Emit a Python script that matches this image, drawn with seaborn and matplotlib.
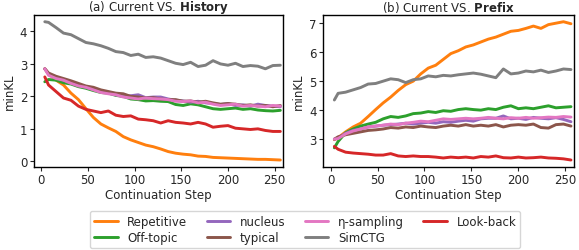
import numpy as np
import pandas as pd
import matplotlib
matplotlib.use("Agg")
import matplotlib.pyplot as plt
import seaborn as sns

steps = [4, 8, 16, 24, 32, 40, 48, 56, 64, 72, 80, 88, 96, 104, 112, 120, 128,
         136, 144, 152, 160, 168, 176, 184, 192, 200, 208, 216, 224, 232, 240, 248, 256]

methods = ["Repetitive", "Off-topic", "nucleus", "typical", "η-sampling", "SimCTG", "Look-back"]
colors = ["#ff7f0e", "#2ca02c", "#9467bd", "#8c564b", "#e377c2", "#7f7f7f", "#d62728"]

# (a) Current VS. History
hist_repetitive = [2.85, 2.70, 2.50, 2.35, 2.10, 1.90, 1.62, 1.35, 1.15, 1.03, 0.92, 0.76, 0.66, 0.58, 0.50, 0.45, 0.38,
                   0.30, 0.25, 0.22, 0.20, 0.16, 0.15, 0.12, 0.11, 0.10, 0.09, 0.08, 0.07, 0.06, 0.06, 0.05, 0.04]
hist_offtopic = [2.45, 2.52, 2.50, 2.42, 2.38, 2.30, 2.25, 2.18, 2.12, 2.10, 2.03, 2.00, 1.92, 1.90, 1.86, 1.87, 1.85,
                 1.84, 1.75, 1.72, 1.77, 1.74, 1.68, 1.62, 1.60, 1.62, 1.64, 1.60, 1.62, 1.58, 1.56, 1.55, 1.57]
hist_nucleus = [2.85, 2.70, 2.58, 2.50, 2.42, 2.35, 2.28, 2.22, 2.15, 2.10, 2.05, 2.00, 2.02, 2.05, 1.96, 1.98, 1.98,
                1.92, 1.88, 1.86, 1.82, 1.85, 1.80, 1.78, 1.75, 1.78, 1.72, 1.74, 1.70, 1.76, 1.72, 1.70, 1.68]
hist_typical = [2.85, 2.72, 2.62, 2.55, 2.48, 2.40, 2.32, 2.28, 2.20, 2.15, 2.10, 2.08, 2.00, 1.98, 1.95, 1.96, 1.92,
                1.90, 1.90, 1.85, 1.86, 1.82, 1.85, 1.80, 1.76, 1.78, 1.76, 1.72, 1.74, 1.70, 1.72, 1.68, 1.72]
hist_eta = [2.85, 2.65, 2.55, 2.50, 2.40, 2.32, 2.28, 2.20, 2.12, 2.08, 2.05, 1.98, 1.95, 1.92, 1.95, 1.93, 1.92,
            1.90, 1.85, 1.84, 1.86, 1.80, 1.82, 1.76, 1.72, 1.74, 1.76, 1.70, 1.72, 1.70, 1.68, 1.72, 1.70]
hist_simctg = [4.30, 4.28, 4.12, 3.95, 3.90, 3.78, 3.66, 3.62, 3.56, 3.48, 3.38, 3.35, 3.26, 3.30, 3.20, 3.22, 3.18,
               3.10, 3.02, 2.98, 3.05, 2.92, 2.96, 3.10, 3.00, 2.96, 3.02, 2.92, 2.95, 2.93, 2.85, 2.95, 2.96]
hist_lookback = [2.60, 2.35, 2.15, 1.95, 1.88, 1.70, 1.60, 1.55, 1.50, 1.55, 1.42, 1.38, 1.40, 1.30, 1.28, 1.25, 1.18,
                 1.25, 1.20, 1.18, 1.15, 1.20, 1.15, 1.05, 1.08, 1.10, 1.02, 1.00, 0.98, 1.00, 0.95, 0.92, 0.92]

# (b) Current VS. Prefix
pref_repetitive = [2.98, 3.05, 3.25, 3.42, 3.55, 3.78, 4.02, 4.25, 4.45, 4.68, 4.88, 5.00, 5.25, 5.45, 5.55, 5.75, 5.95,
                   6.05, 6.18, 6.25, 6.35, 6.45, 6.52, 6.62, 6.72, 6.75, 6.82, 6.90, 6.82, 6.95, 7.00, 7.05, 6.98]
pref_offtopic = [2.70, 2.92, 3.22, 3.35, 3.45, 3.52, 3.58, 3.70, 3.78, 3.75, 3.80, 3.88, 3.90, 3.95, 3.92, 3.98, 3.96,
                 4.02, 4.05, 4.02, 4.00, 4.05, 4.02, 4.10, 4.15, 4.05, 4.08, 4.05, 4.10, 4.15, 4.08, 4.10, 4.12]
pref_nucleus = [3.00, 3.05, 3.20, 3.30, 3.35, 3.42, 3.45, 3.48, 3.50, 3.52, 3.55, 3.52, 3.55, 3.58, 3.55, 3.60, 3.58,
                3.62, 3.65, 3.62, 3.70, 3.72, 3.72, 3.80, 3.70, 3.72, 3.68, 3.75, 3.72, 3.70, 3.74, 3.68, 3.60]
pref_typical = [3.00, 3.08, 3.15, 3.20, 3.25, 3.30, 3.32, 3.35, 3.40, 3.38, 3.42, 3.40, 3.45, 3.42, 3.40, 3.45, 3.48,
                3.45, 3.50, 3.45, 3.48, 3.45, 3.50, 3.42, 3.48, 3.50, 3.48, 3.52, 3.40, 3.38, 3.50, 3.52, 3.45]
pref_eta = [3.00, 3.02, 3.18, 3.28, 3.35, 3.42, 3.45, 3.48, 3.52, 3.50, 3.55, 3.58, 3.62, 3.60, 3.65, 3.70, 3.68,
            3.70, 3.72, 3.70, 3.72, 3.75, 3.72, 3.70, 3.74, 3.72, 3.75, 3.72, 3.74, 3.76, 3.75, 3.78, 3.76]
pref_simctg = [4.35, 4.58, 4.62, 4.70, 4.78, 4.90, 4.92, 5.00, 5.08, 5.05, 4.95, 5.05, 5.08, 5.18, 5.15, 5.20, 5.18,
               5.22, 5.25, 5.28, 5.24, 5.18, 5.12, 5.42, 5.25, 5.28, 5.35, 5.32, 5.38, 5.30, 5.35, 5.42, 5.40]
pref_lookback = [2.75, 2.65, 2.55, 2.52, 2.50, 2.48, 2.45, 2.45, 2.50, 2.42, 2.40, 2.42, 2.40, 2.40, 2.38, 2.35, 2.38,
                 2.36, 2.38, 2.35, 2.40, 2.38, 2.42, 2.36, 2.35, 2.38, 2.35, 2.36, 2.38, 2.35, 2.34, 2.32, 2.28]

hist_series = [hist_repetitive, hist_offtopic, hist_nucleus, hist_typical, hist_eta, hist_simctg, hist_lookback]
pref_series = [pref_repetitive, pref_offtopic, pref_nucleus, pref_typical, pref_eta, pref_simctg, pref_lookback]


def long_df(series):
    rows = []
    for name, vals in zip(methods, series):
        for s, v in zip(steps, vals):
            rows.append({"step": s, "minKL": v, "method": name})
    return pd.DataFrame(rows)


FS = 8.5
sns.set_style("ticks")
plt.rcParams["font.family"] = ["DejaVu Sans"]
plt.rcParams["font.size"] = FS

fig = plt.figure(figsize=(5.79, 2.51), dpi=100)
ax1 = fig.add_axes([0.058, 0.331, 0.431, 0.606])
ax2 = fig.add_axes([0.558, 0.331, 0.433, 0.606])
palette = dict(zip(methods, colors))

for ax, series, title in [(ax1, hist_series, r"(a) Current VS. $\mathbf{History}$"),
                          (ax2, pref_series, r"(b) Current VS. $\mathbf{Prefix}$")]:
    sns.lineplot(data=long_df(series), x="step", y="minKL", hue="method",
                 hue_order=methods, palette=palette, linewidth=2.1, ax=ax, legend=(ax is ax1))
    ax.set_xlim(-8, 259)
    ax.set_xticks([0, 50, 100, 150, 200, 250])
    ax.set_xlabel("Continuation Step", fontsize=FS, labelpad=1)
    ax.set_ylabel("minKL", fontsize=FS, labelpad=3)
    ax.set_title(title, fontsize=FS, pad=2.5)
    ax.tick_params(labelsize=FS, length=3, pad=1.5)
    for sp in ax.spines.values():
        sp.set_linewidth(1.0)
        sp.set_color("black")

ax1.set_yticks([0, 1, 2, 3, 4])
ax2.set_yticks([3, 4, 5, 6, 7])

handles, labels = ax1.get_legend_handles_labels()
ax1.get_legend().remove()
fig.legend(handles, labels, loc="center", bbox_to_anchor=(0.527, 0.082), ncol=4,
           fontsize=FS, frameon=True, handlelength=2, columnspacing=1.65,
           labelspacing=0.25, borderpad=0.35)

fig.savefig("out.png", dpi=100)
